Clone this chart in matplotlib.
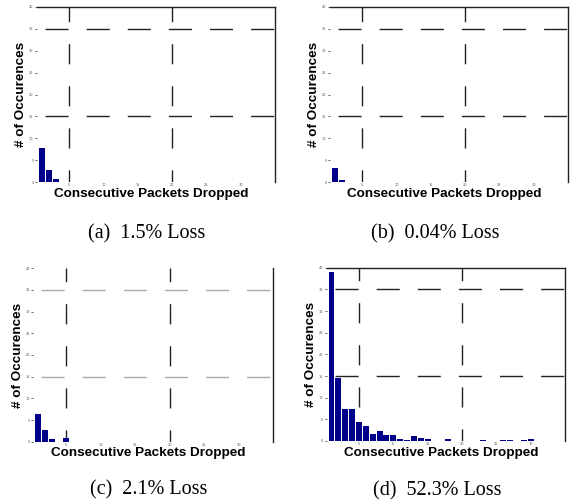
import matplotlib
matplotlib.use("Agg")
import matplotlib.pyplot as plt
import numpy as np

# ---- data ----
captions = ["(a)  1.5% Loss", "(b)  0.04% Loss", "(c)  2.1% Loss", "(d)  52.3% Loss"]
xlabel = "Consecutive Packets Dropped"
ylabel = "# of Occurences"

run_a = [1, 2, 3]
cnt_a = [7.7, 2.75, 0.6]
run_b = [1, 2]
cnt_b = [3.3, 0.55]
run_c = [1, 2, 3, 5]
cnt_c = [6.3, 2.7, 0.6, 0.85]
run_d = [1, 2, 3, 4, 5, 6, 7, 8, 9, 10, 11, 12, 13, 14, 15, 18, 23, 26, 27, 29, 30]
cnt_d = [38.9, 14.5, 7.5, 7.3, 4.3, 3.45, 1.55, 2.3, 1.4, 1.4, 0.5, 0.25,
         1.1, 0.8, 0.5, 0.35, 0.25, 0.25, 0.25, 0.25, 0.5]

x_ticks = [5, 10, 15, 20, 25, 30]
y_ticks = [0, 5, 10, 15, 20, 25, 30, 35, 40]
x_grid = [5, 20]
y_grid = [15, 35]

W, H = 572, 501
fig = plt.figure(figsize=(W / 100, H / 100), dpi=100)

def frac(l, r, t, b):
    return [l / W, (H - b) / H, (r - l) / W, (b - t) / H]

rects = [frac(37, 275, 7, 182), frac(330, 568, 7, 182),
         frac(33.3, 273.3, 268.3, 441.7), frac(326.7, 565, 267.7, 441)]
datasets = [(run_a, cnt_a), (run_b, cnt_b), (run_c, cnt_c), (run_d, cnt_d)]
cap_pos = [(147, 234), (435, 234), (149, 490), (437, 491)]

bar_color = "#00008a"
hdash = (23.8, (16.6, 13.0))
vdash = (5.8, (14.5, 15.8))

for i, (rect, (xs, ys)) in enumerate(zip(rects, datasets)):
    ax = fig.add_axes(rect)
    ax.bar(xs, ys, width=0.87, color=bar_color, edgecolor="none", zorder=3)
    ax.set_xlim(0.3, 35)
    ax.set_ylim(0, 40)
    ax.set_xticks(x_ticks)
    ax.set_yticks(y_ticks)
    ax.tick_params(axis="both", labelsize=2.5, labelcolor="#555555",
                   length=1.5, width=0.6, color="#444444", pad=1)
    ax.xaxis.set_tick_params(length=0)
    for s in ["left", "bottom"]:
        ax.spines[s].set_visible(False)
    ax.spines["right"].set_color("#222222")
    ax.spines["right"].set_linewidth(1.0)
    if i == 2:
        ax.spines["top"].set_visible(False)
        hcol = "#aaaaaa"
    else:
        ax.spines["top"].set_color("#222222")
        ax.spines["top"].set_linewidth(1.0)
        hcol = "#222222"
    for gy in y_grid:
        ax.axhline(gy, color=hcol, lw=1.0, linestyle=hdash, zorder=1)
    for gx in x_grid:
        ax.axvline(gx, color="#222222", lw=1.0, linestyle=vdash, zorder=1)
    ax.set_xlabel(xlabel, fontsize=9.7, fontweight="bold",
                  family=["Liberation Sans", "DejaVu Sans"])
    ax.xaxis.set_label_coords(0.48, -0.032)
    ax.set_ylabel(ylabel, fontsize=9.7, fontweight="bold",
                  family=["Liberation Sans", "DejaVu Sans"])
    ax.yaxis.set_label_coords(-0.04, 0.5)
    cx, cy = cap_pos[i]
    fig.text(cx / W, 1 - cy / H, captions[i], ha="center", va="center",
             fontsize=14.5, family=["Liberation Serif", "DejaVu Serif"])

fig.savefig("out.png", dpi=100)
